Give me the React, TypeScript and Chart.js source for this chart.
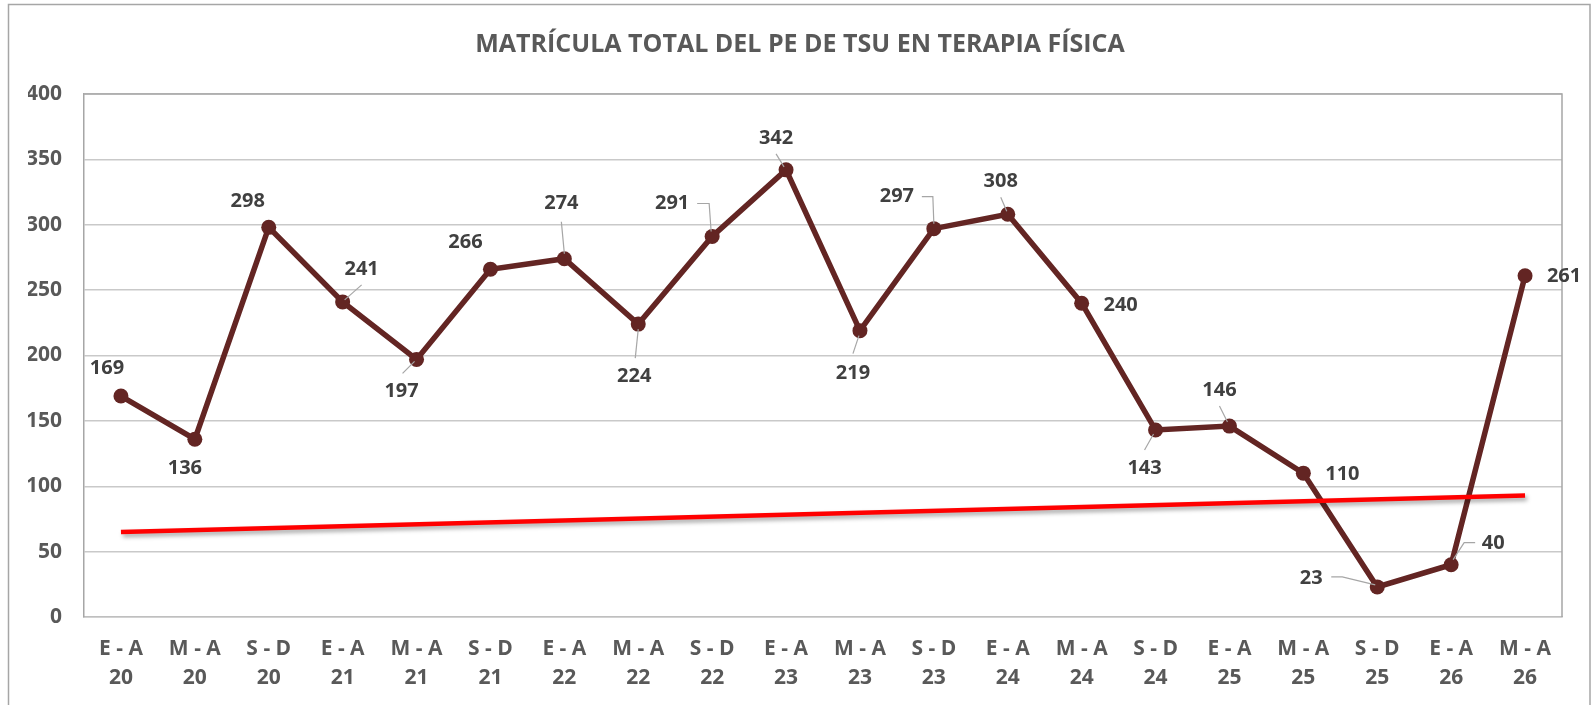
import { useEffect, useRef } from "react";
import { Chart, registerables } from "chart.js";

Chart.register(...registerables);

const TITLE = "MATRÍCULA TOTAL DEL PE DE TSU EN TERAPIA FÍSICA";

const periods = ["E - A", "M - A", "S - D", "E - A", "M - A", "S - D", "E - A", "M - A", "S - D", "E - A",
  "M - A", "S - D", "E - A", "M - A", "S - D", "E - A", "M - A", "S - D", "E - A", "M - A"];
const years = ["20", "20", "20", "21", "21", "21", "22", "22", "22", "23",
  "23", "23", "24", "24", "24", "25", "25", "25", "26", "26"];
const enrollment = [169, 136, 298, 241, 197, 266, 274, 224, 291, 342,
  219, 297, 308, 240, 143, 146, 110, 23, 40, 261];

// straight reference line, only its two end values
const referenceStart = 65;
const referenceEnd = 93;

const yTicks = { min: 0, max: 400, step: 50 };

// data-label placement (label centre relative to point, and leader-line path)
type Place = { dx: number; dy: number; leader?: number[][] };
const labelPlacement: Place[] = [
  { dx: -14, dy: -28 },
  { dx: -10, dy: 29 },
  { dx: -21, dy: -26 },
  { dx: 19, dy: -33, leader: [[19, -17], [2, -2]] },
  { dx: -15, dy: 32, leader: [[-14, 14], [-2, 2]] },
  { dx: -25, dy: -27 },
  { dx: -3, dy: -55, leader: [[-3, -37], [0, -5]] },
  { dx: -4, dy: 52, leader: [[-3, 34], [0, 5]] },
  { dx: -40, dy: -33, leader: [[-15, -33], [-3, -33], [-1, -5]] },
  { dx: -10, dy: -32, leader: [[-10, -16], [-2, -3]] },
  { dx: -7, dy: 43, leader: [[-7, 23], [-1, 5]] },
  { dx: -37, dy: -32, leader: [[-12, -32], [-1, -32], [0, -5]] },
  { dx: -7, dy: -33, leader: [[-7, -17], [-1, -3]] },
  { dx: 39, dy: 2 },
  { dx: -11, dy: 38, leader: [[-11, 20], [-2, 4]] },
  { dx: -10, dy: -36, leader: [[-10, -20], [-2, -4]] },
  { dx: 39, dy: 1 },
  { dx: -66, dy: -9, leader: [[-46, -10], [-35, -10], [-2, -2]] },
  { dx: 42, dy: -21, leader: [[24, -22], [13, -22], [2, -5]] },
  { dx: 39, dy: 1 },
];

const FONT = "'Open Sans', 'Noto Sans', sans-serif";
const AXIS_COLOR = "#595959";
const LABEL_COLOR = "#404040";

export default function App() {
  const ref = useRef<HTMLCanvasElement | null>(null);

  useEffect(() => {
    if (!ref.current) return;
    const last = periods.length - 1;
    const referenceData = periods.map((_, i) => (i === 0 ? referenceStart : i === last ? referenceEnd : null));

    const framePlugin = {
      id: "frame",
      beforeDraw(chart: any) {
        const { ctx, width, height } = chart;
        ctx.save();
        ctx.fillStyle = "#ffffff";
        ctx.fillRect(0, 0, width, height);
        ctx.strokeStyle = "#A6A6A6";
        ctx.lineWidth = 1.5;
        ctx.strokeRect(8.5, 4.5, width - 9.5, height + 20);
        // chart title
        ctx.fillStyle = AXIS_COLOR;
        ctx.font = `bold 25px ${FONT}`;
        ctx.textAlign = "center";
        ctx.textBaseline = "middle";
        ctx.fillText(TITLE, 800, 45);
        ctx.restore();
      },
      beforeDatasetsDraw(chart: any) {
        const { ctx, chartArea: a } = chart;
        ctx.save();
        ctx.strokeStyle = "#A6A6A6";
        ctx.lineWidth = 1.5;
        ctx.beginPath();
        ctx.moveTo(a.left, a.top);
        ctx.lineTo(a.right, a.top);
        ctx.lineTo(a.right, a.bottom);
        ctx.stroke();
        ctx.restore();
      },
    };

    const shadowPlugin = {
      id: "refShadow",
      beforeDatasetDraw(chart: any, args: any) {
        if (args.index !== 0) return;
        const ctx = chart.ctx;
        ctx.save();
        ctx.shadowColor = "rgba(0,0,0,0.35)";
        ctx.shadowBlur = 4;
        ctx.shadowOffsetX = 2;
        ctx.shadowOffsetY = 3;
      },
      afterDatasetDraw(chart: any, args: any) {
        if (args.index !== 0) return;
        chart.ctx.restore();
      },
    };

    const labelPlugin = {
      id: "valueLabels",
      afterDatasetsDraw(chart: any) {
        const ctx = chart.ctx;
        const meta = chart.getDatasetMeta(1);
        ctx.save();
        meta.data.forEach((pt: any, i: number) => {
          const p = labelPlacement[i];
          if (p.leader) {
            ctx.strokeStyle = "#A6A6A6";
            ctx.lineWidth = 1.2;
            ctx.beginPath();
            p.leader.forEach((q, k) => {
              if (k === 0) ctx.moveTo(pt.x + q[0], pt.y + q[1]);
              else ctx.lineTo(pt.x + q[0], pt.y + q[1]);
            });
            ctx.stroke();
          }
          ctx.fillStyle = LABEL_COLOR;
          ctx.font = `bold 20px ${FONT}`;
          ctx.textAlign = "center";
          ctx.textBaseline = "middle";
          ctx.fillText(String(enrollment[i]), pt.x + p.dx, pt.y + p.dy);
        });
        ctx.restore();
      },
    };

    const chart = new Chart(ref.current, {
      type: "line",
      data: {
        labels: periods.map((p, i) => [p, years[i]]),
        datasets: [
          {
            label: "Referencia",
            data: referenceData,
            borderColor: "#FF0000",
            borderWidth: 4.5,
            pointRadius: 0,
            spanGaps: true,
            tension: 0,
            order: 0,
          },
          {
            label: "Matrícula",
            data: enrollment,
            borderColor: "#632523",
            backgroundColor: "#632523",
            borderWidth: 5.5,
            pointRadius: 7.5,
            pointHoverRadius: 7.5,
            pointBorderWidth: 0,
            pointBackgroundColor: "#632523",
            tension: 0,
            order: 1,
          },
        ],
      },
      options: {
        animation: false,
        responsive: false,
        events: [],
        layout: { padding: { left: 28, right: 29, top: 94, bottom: 13 } },
        plugins: {
          legend: { display: false },
          tooltip: { enabled: false },
          title: { display: false },
        },
        scales: {
          x: {
            offset: true,
            grid: { display: false, drawTicks: false },
            border: { display: true, color: "#BFBFBF", width: 1.5 },
            ticks: {
              color: AXIS_COLOR,
              font: { family: FONT, size: 21, weight: "bold", lineHeight: 1.4 },
              padding: 17,
              maxRotation: 0,
              autoSkip: false,
            },
            afterFit(scale: any) {
              scale.height = 75;
            },
          },
          y: {
            min: yTicks.min,
            max: yTicks.max,
            grid: { color: "#C9C9C9", lineWidth: 1.5, drawTicks: false },
            border: { display: true, color: "#A6A6A6", width: 1.5 },
            ticks: {
              stepSize: yTicks.step,
              color: AXIS_COLOR,
              font: { family: FONT, size: 21, weight: "bold" },
              padding: 22,
            },
            afterFit(scale: any) {
              scale.width = 56;
            },
          },
        },
      },
      plugins: [framePlugin, shadowPlugin, labelPlugin],
    } as any);

    return () => chart.destroy();
  }, []);

  return (
    <div style={{ position: "absolute", left: 0, top: 0, width: 1591, height: 705 }}>
      <canvas ref={ref} width={1591} height={705} style={{ display: "block", width: 1591, height: 705 }} />
    </div>
  );
}
